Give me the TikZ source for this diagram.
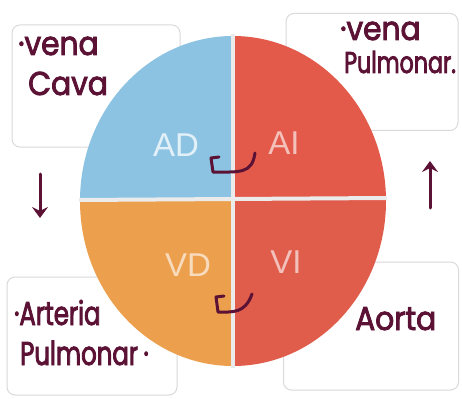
\documentclass[tikz,border=0pt]{standalone}
\usepackage{fontspec}
\newfontfamily\handA{Poppins}[FakeStretch=0.9, FakeBold=2.5]
\newfontfamily\handB{Poppins}[FakeStretch=0.74, FakeBold=2.5]
\newfontfamily\lab{Liberation Sans}
\usetikzlibrary{arrows.meta}
\definecolor{ink}{HTML}{5B1235}
\definecolor{adcol}{HTML}{8CC3E3}
\definecolor{aicol}{HTML}{E35A4A}
\definecolor{vdcol}{HTML}{ECA04E}
\definecolor{vicol}{HTML}{E05C4B}
\definecolor{boxline}{HTML}{DADADA}
\tikzset{
  card/.style={draw=boxline, line width=1pt, rounded corners=8pt, fill=white},
  handwide/.style={text=ink, font=\handA\fontsize{33}{33}\selectfont, inner sep=0pt, anchor=base west},
  handnarrow/.style={text=ink, font=\handB\fontsize{33}{33}\selectfont, inner sep=0pt, anchor=base west},
  chamber/.style={font=\lab\fontsize{33}{33}\selectfont, inner sep=0pt},
  flow/.style={draw=ink, line width=3pt, line cap=round, -{Stealth[length=11pt,width=16pt,inset=4pt]}},
  hook/.style={draw=ink, line width=3pt, line cap=round, line join=round},
  divider/.style={draw=white!92!black, line width=4pt}
}
\begin{document}
\begin{tikzpicture}[x=1pt,y=-1pt]
\useasboundingbox (0,0) rectangle (462,398);
\fill[white] (0,0) rectangle (462,398);
% cards
\node[card, minimum width=168pt, minimum height=122pt] (tl) at (96,86) {};
\node[card, minimum width=172pt, minimum height=117pt] (tr) at (372,72) {};
\node[card, minimum width=170pt, minimum height=118pt] (bl) at (92,336) {};
\node[card, minimum width=175pt, minimum height=128pt] (br) at (371,326) {};
% heart quadrants
\coordinate (c) at (233,201);
\begin{scope}
\clip (c) ellipse [x radius=153pt, y radius=165pt];
\fill[adcol] (60,20) rectangle (233,201);
\fill[aicol] (233,20) rectangle (400,201);
\fill[vdcol] (60,201) rectangle (233,380);
\fill[vicol] (233,201) rectangle (400,380);
\end{scope}
\draw[divider] (233,34) -- (233,368);
\draw[divider] (79,200) -- (387,198);
% chamber labels
\node[chamber, text=white!75!adcol] (ad) at (176,145) {AD};
\node[chamber, text=white!62!aicol] (ai) at (284,143) {AI};
\node[chamber, text=white!62!vdcol] (vd) at (188,265) {VD};
\node[chamber, text=white!62!vicol] (vi) at (286,262) {VI};
% handwritten texts
\node[handwide] (v1) at (18,55) {\textperiodcentered vena};
\node[handwide] (c1) at (28,95) {Cava};
\node[handwide] (v2) at (340,40) {\textperiodcentered vena};
\node[handnarrow, font=\handB\fontsize{30}{30}\selectfont] (p3) at (344,73) {Pulmonar.};
\node[handnarrow] (a1) at (14,325) {\textperiodcentered Arteria};
\node[handnarrow] (p4) at (20,365) {Pulmonar\,\textperiodcentered};
\node[handwide] (ao) at (355,330) {Aorta};
% side arrows
\coordinate (ls) at (40,174);
\coordinate (le) at (40,218);
\coordinate (rs) at (430,208);
\coordinate (re) at (430,161);
\draw[flow] (ls) -- (le);
\draw[flow] (rs) -- (re);
% inner hooks
\coordinate (h1a) at (255,153);
\coordinate (h1b) at (213,172);
\coordinate (h1c) at (211,158);
\draw[hook] (h1a) .. controls (252,174) and (240,172) .. (h1b) -- (h1c) -- (219,157);
\coordinate (h2a) at (252,294);
\coordinate (h2b) at (218,312);
\coordinate (h2c) at (216,297);
\draw[hook] (h2a) .. controls (245,314) and (232,312) .. (h2b) -- (h2c) -- (224,296);
\end{tikzpicture}
\end{document}
